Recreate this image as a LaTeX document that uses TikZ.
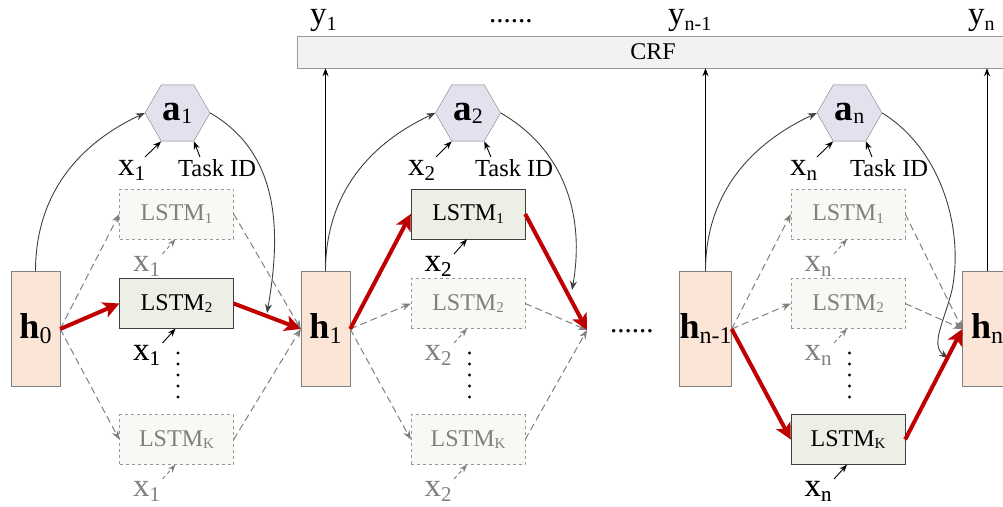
\documentclass[tikz,border=0pt]{standalone}
\usepackage{fontspec}
\setmainfont{Liberation Serif}
\usetikzlibrary{shapes.geometric,arrows.meta}
\definecolor{hfill}{HTML}{FBE5D6}
\definecolor{lfill}{HTML}{ECEFE5}
\definecolor{ffill}{HTML}{F8F8F4}
\definecolor{afill}{HTML}{E4E0EE}
\definecolor{cfill}{HTML}{F2F2F2}
\definecolor{redc}{HTML}{C00000}
\definecolor{dgray}{HTML}{808080}
\definecolor{edgec}{HTML}{404040}
\newcommand\fs[1]{\fontsize{#1}{#1}\selectfont}
\newcommand\xlab[2]{{\fs{33}#1}\raisebox{-5pt}{\fs{21}#2}}
\newcommand\ylab[1]{{\fs{33}y}\raisebox{-6pt}{\fs{20}#1}}
\newcommand\hlab[1]{{\fs{36}\bfseries h}\raisebox{-5pt}{\fs{24}#1}}
\newcommand\alab[1]{{\fs{37}\bfseries a}\raisebox{-3pt}{\fs{22}#1}}
\newcommand\lstm[1]{{\fs{24}LSTM}\raisebox{-2.5pt}{\fs{15}#1}}
\tikzset{
  hbox/.style={draw=dgray, fill=hfill, minimum width=49pt, minimum height=115pt, inner sep=0pt},
  lact/.style={draw=edgec, fill=lfill, minimum width=114pt, minimum height=50pt, inner sep=0pt},
  lfad/.style={draw=dgray!80, dashed, fill=ffill, text=dgray, minimum width=114pt, minimum height=50pt, inner sep=0pt},
  hexa/.style={regular polygon, regular polygon sides=6, minimum size=65pt, draw=dgray, fill=afill, inner sep=0pt},
  crfbox/.style={draw=dgray!80, fill=cfill, minimum width=712pt, minimum height=32pt, inner sep=0pt},
  lbl/.style={anchor=base west, inner sep=0pt},
  redarr/.style={draw=redc, line width=4pt, -{Stealth[length=16pt,width=16pt,inset=4pt]}},
  dsharr/.style={draw=dgray, line width=1pt, dash pattern=on 7pt off 4pt, -{Stealth[length=9pt,width=7pt]}},
  thinarr/.style={draw=black, line width=0.9pt, -{Stealth[length=8pt,width=6pt]}},
  dthin/.style={draw=dgray, line width=0.9pt, dash pattern=on 4pt off 3pt, -{Stealth[length=8pt,width=6pt]}},
  curv/.style={draw=edgec, line width=0.9pt, -{Stealth[length=9pt,width=7pt]}},
  vdots/.style={line width=3.2pt, line cap=round, dash pattern=on 0pt off 11pt}
}
\begin{document}
\begin{tikzpicture}[x=1pt,y=1pt]
\useasboundingbox (0,0) rectangle (1003,-506);
\fill[white] (0,0) rectangle (1003,-506);
\clip (0,0) rectangle (1003,-506);

% CRF and outputs
\node[crfbox] (crf) at (653,-52) {\fs{24}CRF};
\node[lbl] (y1) at (310,-24) {\ylab{1}};
\node[lbl] (ydots) at (489,-23) {\fs{29}......};
\node[lbl] (yn1) at (668,-24) {\ylab{n-1}};
\node[lbl] (yn) at (968,-24) {\ylab{n}};

% hidden states
\node[hbox] (h0) at (35.5,-329) {\hlab{0}};
\node[hbox] (h1) at (325.5,-329) {\hlab{1}};
\node[hbox] (hn1) at (705.5,-329) {\hlab{n-1}};
\node[hbox] (hn) at (987,-329) {\hlab{n}};
\node[lbl] (mdots) at (610,-332) {\fs{29}......};
\coordinate (m2) at (587,-330);

% hexagons
\node[hexa] (a1) at (177.5,-113) {\alab{1}};
\node[hexa] (a2) at (468,-113) {\alab{2}};
\node[hexa] (an) at (849.5,-113) {\alab{n}};

\node[lbl] (ax1) at (118,-175) {\xlab{x}{1}};
\node[lbl] (at1) at (178,-176) {\fs{24.5}Task ID};
\node[lbl] (ax2) at (408,-175) {\xlab{x}{2}};
\node[lbl] (at2) at (475,-176) {\fs{24.5}Task ID};
\node[lbl] (axn) at (790,-175) {\xlab{x}{n}};
\node[lbl] (atn) at (850,-176) {\fs{24.5}Task ID};
\coordinate (ax1t) at (145,-157);
\coordinate (at1t) at (200,-157);
\coordinate (ax2t) at (436,-157);
\coordinate (at2t) at (491,-157);
\coordinate (axnt) at (817,-157);
\coordinate (atnt) at (872,-157);
\draw[thinarr] (ax1t) -- (a1.240);
\draw[thinarr] (at1t) -- (a1.300);
\draw[thinarr] (ax2t) -- (a2.240);
\draw[thinarr] (at2t) -- (a2.300);
\draw[thinarr] (axnt) -- (an.240);
\draw[thinarr] (atnt) -- (an.300);

% LSTM group 1
\node[lfad] (l11) at (176.5,-214) {\lstm{1}};
\node[lact] (l12) at (176.5,-303.5) {\lstm{2}};
\node[lfad] (l1K) at (176.5,-439.5) {\lstm{K}};
% LSTM group 2
\node[lact] (l21) at (468,-214) {\lstm{1}};
\node[lfad] (l22) at (468,-303.5) {\lstm{2}};
\node[lfad] (l2K) at (468,-439.5) {\lstm{K}};
% LSTM group 3
\node[lfad] (l31) at (848,-214) {\lstm{1}};
\node[lfad] (l32) at (848,-303.5) {\lstm{2}};
\node[lact] (l3K) at (848,-439.5) {\lstm{K}};

% x labels under LSTMs
\foreach \g/\c/\s in {1/176.5/1, 2/468/2, 3/848/n}{
  \node[lbl, text=dgray] (xa\g) at (\c-43.5,-271) {\xlab{x}{\s}};
  \node[lbl, text=dgray] (xb\g) at (\c-43.5,-360) {\xlab{x}{\s}};
  \node[lbl, text=dgray] (xc\g) at (\c-43.5,-496) {\xlab{x}{\s}};
  \coordinate (xat\g) at (\c-14,-254);
  \coordinate (xbt\g) at (\c-14,-343);
  \coordinate (xct\g) at (\c-14,-479);
  \draw[vdots] (\c+1.5,-353) -- (\c+1.5,-400);
}
\node[lbl] at (xb1.base west) {\xlab{x}{1}};
\node[lbl] at (xa2.base west) {\xlab{x}{2}};
\node[lbl] at (xc3.base west) {\xlab{x}{n}};

\draw[dthin] (xat1) -- ([xshift=-1pt]l11.south);
\draw[thinarr] (xbt1) -- ([xshift=-1pt]l12.south);
\draw[dthin] (xct1) -- ([xshift=-1pt]l1K.south);
\draw[thinarr] (xat2) -- ([xshift=-1pt]l21.south);
\draw[dthin] (xbt2) -- ([xshift=-1pt]l22.south);
\draw[dthin] (xct2) -- ([xshift=-1pt]l2K.south);
\draw[dthin] (xat3) -- ([xshift=-1pt]l31.south);
\draw[dthin] (xbt3) -- ([xshift=-1pt]l32.south);
\draw[thinarr] (xct3) -- ([xshift=-1pt]l3K.south);

% dashed alternative paths
\draw[dsharr] (h0.east) -- (l11.west);
\draw[dsharr] (h0.east) -- (l1K.west);
\draw[dsharr] (l11.east) -- (h1.west);
\draw[dsharr] (l1K.east) -- (h1.west);
\draw[dsharr] (h1.east) -- (l22.west);
\draw[dsharr] (h1.east) -- (l2K.west);
\draw[dsharr] (l22.east) -- (m2);
\draw[dsharr] (l2K.east) -- (m2);
\draw[dsharr] (hn1.east) -- (l31.west);
\draw[dsharr] (hn1.east) -- (l32.west);
\draw[dsharr] (l31.east) -- (hn.west);
\draw[dsharr] (l32.east) -- (hn.west);

% CRF inputs
\draw[thinarr] (h1.north) -- (h1.north |- crf.south);
\draw[thinarr] (hn1.north) -- (hn1.north |- crf.south);
\draw[thinarr] (hn.north) -- (hn.north |- crf.south);

% attention curves
\coordinate (t1) at (267,-313);
\coordinate (t2) at (572,-290);
\coordinate (t3) at (948,-358);
\draw[curv] (h0.north) to[out=90,in=205] (a1.180);
\draw[curv] (a1.0) to[out=-30,in=80] (t1);
\draw[curv] (h1.north) to[out=90,in=205] (a2.180);
\draw[curv] (a2.0) to[out=-30,in=80] (t2);
\draw[curv] (hn1.north) to[out=90,in=205] (an.180);
\draw[curv] (an.0) .. controls (942,-150) and (964,-230) .. (952,-290) .. controls (944,-322) and (930,-345) .. (t3);

% selected path (red)
\draw[redarr] (h0.east) -- (l12.west);
\draw[redarr] (l12.east) -- (h1.west);
\draw[redarr] (h1.east) -- (l21.west);
\draw[redarr] (l21.east) -- (m2);
\draw[redarr] (hn1.east) -- (l3K.west);
\draw[redarr] (l3K.east) -- (hn.west);
\end{tikzpicture}
\end{document}
